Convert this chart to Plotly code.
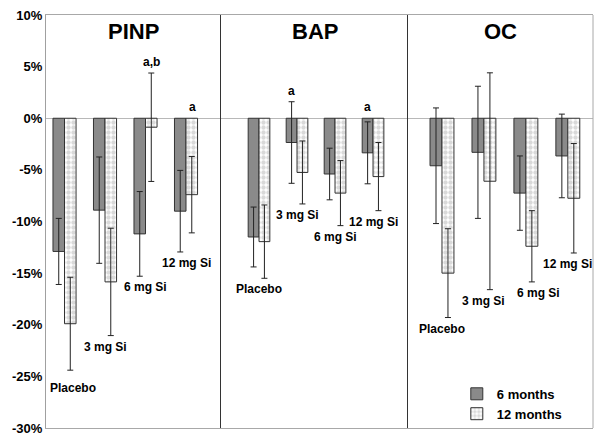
import plotly.graph_objs as go
from plotly.subplots import make_subplots

# data (% change from baseline)
panels = ["PINP", "BAP", "OC"]
groups = ["Placebo", "3 mg Si", "6 mg Si", "12 mg Si"]

m6_values = {
    "PINP": [-12.9, -8.9, -11.2, -9.0],
    "BAP": [-11.5, -2.35, -5.4, -3.35],
    "OC": [-4.6, -3.3, -7.25, -3.65],
}
m6_errors = {
    "PINP": [3.2, 5.15, 4.1, 3.95],
    "BAP": [2.9, 3.95, 2.5, 3.0],
    "OC": [5.6, 6.4, 3.6, 4.05],
}
m12_values = {
    "PINP": [-19.9, -15.85, -0.87, -7.4],
    "BAP": [-11.95, -5.25, -7.25, -5.65],
    "OC": [-15.0, -6.1, -12.4, -7.75],
}
m12_errors = {
    "PINP": [4.5, 5.2, 5.25, 3.7],
    "BAP": [3.55, 3.05, 3.15, 3.3],
    "OC": [4.3, 10.5, 3.45, 5.3],
}

# significance marks: (panel, group, series, text)
marks = [
    ("PINP", "6 mg Si", "12m", "a,b"),
    ("PINP", "12 mg Si", "12m", "a"),
    ("BAP", "3 mg Si", "6m", "a"),
    ("BAP", "12 mg Si", "6m", "a"),
]

y_ticks = [-30, -25, -20, -15, -10, -5, 0, 5, 10]
y_ticktext = ["%d%%" % v for v in y_ticks]

FONT = "Liberation Sans, Arial, sans-serif"

# a few labels sit a little off-centre in the original
label_nudge = {("PINP", "Placebo"): (8, -7), ("OC", "6 mg Si"): (13, 0)}

fig = make_subplots(rows=1, cols=3, shared_yaxes=True, horizontal_spacing=0,
                    column_widths=[175, 187, 185])

for i, p in enumerate(panels):
    col = i + 1
    xref = "x" if col == 1 else "x%d" % col
    yref = "y" if col == 1 else "y%d" % col

    fig.add_trace(go.Bar(
        x=groups, y=m6_values[p], name="6 months",
        marker=dict(color="#8a8a8a", line=dict(color="#333333", width=1)),
        error_y=dict(type="data", array=m6_errors[p], color="#222222", thickness=1, width=3),
        showlegend=(i == 0), legendgroup="6m"),
        row=1, col=col)
    fig.add_trace(go.Bar(
        x=groups, y=m12_values[p], name="12 months",
        marker=dict(color="white", line=dict(color="#333333", width=1),
                    pattern=dict(shape=".", fgcolor="#b4b4b4", bgcolor="white", size=5, solidity=0.6)),
        error_y=dict(type="data", array=m12_errors[p], color="#222222", thickness=1, width=3),
        showlegend=(i == 0), legendgroup="12m"),
        row=1, col=col)

    # panel title
    fig.add_annotation(text="<b>%s</b>" % p, xref=xref + " domain", yref="paper",
                       x=0.5, y=1, yanchor="top", yshift=-2, showarrow=False,
                       font=dict(family=FONT, size=22, color="black"))

    # group labels under the lowest error bar
    for j, g in enumerate(groups):
        low = min(m6_values[p][j] - m6_errors[p][j], m12_values[p][j] - m12_errors[p][j])
        dx, dy = label_nudge.get((p, g), (0, 0))
        fig.add_annotation(text="<b>%s</b>" % g, xref=xref, yref=yref, x=g, y=low,
                           yanchor="top", xshift=dx, yshift=-2 + dy, showarrow=False,
                           font=dict(family=FONT, size=12, color="black"))

for p, g, s, txt in marks:
    col = panels.index(p) + 1
    j = groups.index(g)
    if s == "6m":
        top = m6_values[p][j] + m6_errors[p][j]
        shift = -6
    else:
        top = m12_values[p][j] + m12_errors[p][j]
        shift = 6
    fig.add_annotation(text="<b>%s</b>" % txt,
                       xref="x" if col == 1 else "x%d" % col,
                       yref="y" if col == 1 else "y%d" % col,
                       x=g, y=max(0, top), yanchor="bottom", xshift=shift, yshift=2,
                       showarrow=False, font=dict(family=FONT, size=12, color="black"))

# category ranges so the groups land where they do in the original
x_ranges = [[-0.457, 3.864], [-1.0, 3.92], [-0.81, 3.6]]
for i, r in enumerate(x_ranges):
    fig.update_xaxes(range=r, showticklabels=False, ticks="", showgrid=False,
                     showline=True, linecolor="#a8a8a8", linewidth=1, mirror=True,
                     row=1, col=i + 1)

common_y = dict(range=[-30, 10], tickvals=y_ticks, ticktext=y_ticktext, showgrid=False,
                zeroline=True, zerolinecolor="#b8b8b8", zerolinewidth=1,
                showline=True, linewidth=1, ticks="")
fig.update_layout(
    yaxis=dict(common_y, linecolor="#a0a0a0",
               tickfont=dict(family=FONT, size=13, color="black", weight="bold")),
    yaxis2=dict(common_y, linecolor="#333333", showticklabels=False),
    yaxis3=dict(common_y, linecolor="#333333", showticklabels=False),
)

# right frame edge
fig.add_shape(type="line", xref="paper", yref="paper", x0=1, x1=1, y0=0, y1=1,
              line=dict(color="#a8a8a8", width=1))

fig.update_layout(
    width=600, height=443,
    margin=dict(l=46, r=7, t=15, b=15),
    plot_bgcolor="white", paper_bgcolor="white",
    barmode="group", bargap=0.43, bargroupgap=0,
    legend=dict(x=0.751, y=0.119, xanchor="left", yanchor="top", bgcolor="rgba(0,0,0,0)",
                font=dict(family=FONT, size=13, color="black", weight="bold"),
                itemwidth=30, tracegroupgap=0),
    font=dict(family=FONT, color="black"),
)

fig.write_html("out.html", config={"displayModeBar": False},
               post_script="document.body.style.margin='0';")
